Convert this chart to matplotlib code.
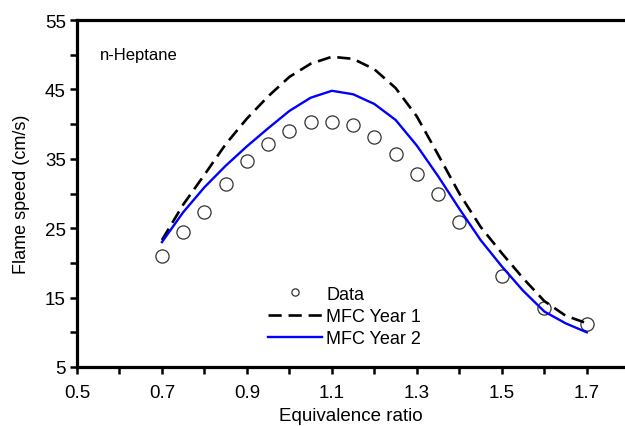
import matplotlib
matplotlib.use("Agg")
import matplotlib.pyplot as plt
from matplotlib.ticker import FixedLocator

plt.rcParams['font.family'] = ['Liberation Sans', 'DejaVu Sans']

# measured flame speeds (cm/s)
phi_data = [0.7, 0.75, 0.8, 0.85, 0.9, 0.95, 1.0, 1.05, 1.1, 1.15, 1.2,
            1.25, 1.3, 1.35, 1.4, 1.5, 1.6, 1.7]
su_data = [21.0, 24.4, 27.4, 31.3, 34.7, 37.2, 39.0, 40.3, 40.3, 39.9, 38.2,
           35.7, 32.8, 29.9, 25.9, 18.1, 13.5, 11.2]

# model curves
phi_model = [0.7, 0.75, 0.8, 0.85, 0.9, 0.95, 1.0, 1.05, 1.1, 1.15, 1.2,
             1.25, 1.3, 1.35, 1.4, 1.45, 1.5, 1.55, 1.6, 1.65, 1.7]
su_year1 = [23.3, 28.4, 32.7, 37.1, 40.8, 44.0, 46.8, 48.7, 49.7, 49.4, 47.9,
            45.2, 41.1, 35.6, 30.0, 25.2, 21.4, 17.8, 14.5, 12.4, 11.3]
su_year2 = [23.0, 27.3, 30.9, 34.0, 36.8, 39.4, 41.9, 43.8, 44.8, 44.3, 42.9,
            40.6, 36.9, 32.5, 27.8, 23.3, 19.5, 16.0, 13.0, 11.3, 10.0]

x_major = [0.5, 0.7, 0.9, 1.1, 1.3, 1.5, 1.7]
x_minor = [0.6, 0.8, 1.0, 1.2, 1.4, 1.6]
y_major = [5, 15, 25, 35, 45, 55]
y_minor = [10, 20, 30, 40, 50]

fig = plt.figure(figsize=(6.25, 4.27), dpi=100)
ax = fig.add_axes([77 / 625, 1 - 368 / 427, 1 - 77 / 625, (368 - 21) / 427])

ax.plot(phi_data, su_data, linestyle='none', marker='o', markersize=9.5,
        markerfacecolor='none', markeredgecolor='#333333', markeredgewidth=0.9,
        label='Data')
ax.plot(phi_model, su_year1, color='black', linewidth=1.9, dashes=(5, 2.6),
        label='MFC Year 1')
ax.plot(phi_model, su_year2, color='#0000ff', linewidth=1.7, label='MFC Year 2')

ax.set_xlim(0.5, 1.79)
ax.set_ylim(5, 55)
ax.xaxis.set_major_locator(FixedLocator(x_major))
ax.xaxis.set_minor_locator(FixedLocator(x_minor))
ax.yaxis.set_major_locator(FixedLocator(y_major))
ax.yaxis.set_minor_locator(FixedLocator(y_minor))
ax.xaxis.set_major_formatter(plt.FuncFormatter(lambda v, p: f'{v:.1f}'))
ax.yaxis.set_major_formatter(plt.FuncFormatter(lambda v, p: f'{v:.0f}'))

for s in ['left', 'bottom', 'top']:
    ax.spines[s].set_linewidth(2.3)
ax.spines['right'].set_visible(False)
ax.tick_params(which='both', direction='out', length=5, width=1.8,
               labelsize=13.5, top=False, right=False)
ax.tick_params(axis='x', pad=7)
ax.tick_params(axis='y', pad=3)

ax.set_xlabel('Equivalence ratio', fontsize=13.5)
ax.set_ylabel('Flame speed (cm/s)', fontsize=13)
ax.xaxis.set_label_coords(0.5, -0.115)
ax.yaxis.set_label_coords(-0.085, 0.5)

ax.text(0.042, 0.9, 'n-Heptane', transform=ax.transAxes, fontsize=12,
        va='center', ha='left')

leg = ax.legend(loc='lower left', bbox_to_anchor=(0.325, 0.02), frameon=False,
                fontsize=13, handlelength=3.0, handletextpad=0.25,
                labelspacing=0.3, markerscale=0.55, borderpad=0.2)

fig.savefig('out.png', dpi=100)
